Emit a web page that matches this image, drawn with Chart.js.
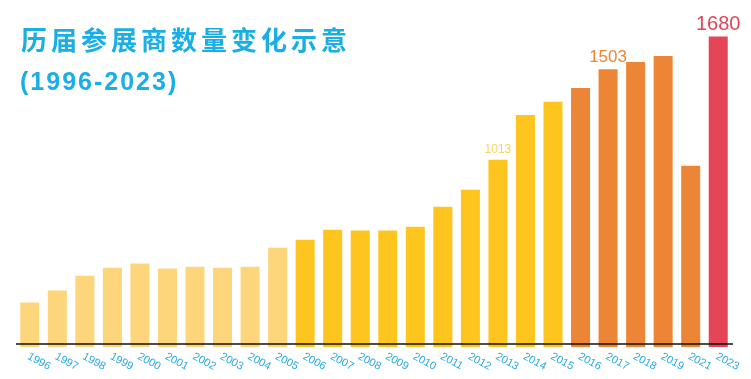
<!DOCTYPE html>
<html>
<head>
<meta charset="utf-8">
<script src="https://cdn.jsdelivr.net/npm/chart.js@4/dist/chart.umd.min.js"></script>
<style>
  html, body { margin: 0; padding: 0; background: #fff; }
  #wrap { position: relative; width: 751px; height: 379px; overflow: hidden; }
  #c { position: absolute; left: 0; top: 0; }
  .t1 { position: absolute; left: 21px; top: 26px; font-family: "Noto Sans CJK SC", sans-serif; font-weight: 700;
        font-size: 26px; line-height: 1; letter-spacing: 4px; color: #1aaee6; white-space: nowrap; }
  .t2 { position: absolute; left: 20px; top: 69px; font-family: "Liberation Sans", Arial, sans-serif; font-weight: 700;
        font-size: 25px; line-height: 1; letter-spacing: 2px; color: #1aaee6; white-space: nowrap; }
</style>
</head>
<body>
<div id="wrap">
  <canvas id="c" width="751" height="379"></canvas>
  <div class="t1">历届参展商数量变化示意</div>
  <div class="t2">(1996-2023)</div>
</div>
<script>
const years = ['1996','1997','1998','1999','2000','2001','2002','2003','2004','2005',
               '2006','2007','2008','2009','2010','2011','2012','2013','2014','2015',
               '2016','2017','2018','2019','2021','2023'];
const exhibitors = [241, 306, 386, 429, 452, 425, 434, 429, 434, 537,
                    580, 634, 631, 631, 651, 759, 851, 1013, 1256, 1327,
                    1402, 1503, 1543, 1575, 981, 1680];
const labelledYears = ['2013', '2017', '2023'];

function barColor(year) {
  const y = parseInt(year, 10);
  if (y <= 2005) return '#fdd57b';
  if (y <= 2015) return '#fdc51e';
  if (y <= 2021) return '#ec8636';
  return '#e64458';
}
const labelStyle = {
  '2013': { color: '#fcd067', size: 12 },
  '2017': { color: '#ec8636', size: 17 },
  '2023': { color: '#e64458', size: 20 }
};

const drawPlugin = {
  id: 'drawExtras',
  afterDatasetsDraw(chart) {
    const ctx = chart.ctx;
    const xs = chart.scales.x, ys = chart.scales.y;
    const area = chart.chartArea;
    // axis line
    ctx.save();
    ctx.strokeStyle = '#111';
    ctx.lineWidth = 1.5;
    ctx.beginPath();
    const ly = area.bottom - 3;
    ctx.moveTo(area.left, ly);
    ctx.lineTo(area.right + 1, ly);
    ctx.stroke();
    // rotated tick labels
    ctx.fillStyle = '#29aae1';
    ctx.font = '11px "Liberation Sans", Arial, sans-serif';
    ctx.textAlign = 'left';
    ctx.textBaseline = 'top';
    years.forEach((yr, i) => {
      const x = xs.getPixelForTick(i);
      ctx.save();
      ctx.translate(x + 1, area.bottom + 4);
      ctx.rotate(28 * Math.PI / 180);
      ctx.fillText(yr, 0, 0);
      ctx.restore();
    });
    // value labels
    ctx.textAlign = 'center';
    ctx.textBaseline = 'alphabetic';
    labelledYears.forEach(yr => {
      const i = years.indexOf(yr);
      const st = labelStyle[yr];
      const x = xs.getPixelForValue(i);
      const y = ys.getPixelForValue(exhibitors[i]);
      ctx.fillStyle = st.color;
      ctx.font = st.size + 'px "Liberation Sans", Arial, sans-serif';
      ctx.fillText(String(exhibitors[i]), x, y - 7);
    });
    ctx.restore();
  }
};

new Chart(document.getElementById('c'), {
  type: 'bar',
  data: {
    labels: years,
    datasets: [{
      data: exhibitors,
      backgroundColor: years.map(barColor),
      borderWidth: 0,
      barPercentage: 0.69,
      categoryPercentage: 1.0
    }]
  },
  options: {
    responsive: false,
    animation: false,
    layout: { padding: { left: 16, right: 19, top: 0, bottom: 0 } },
    plugins: { legend: { display: false }, tooltip: { enabled: false } },
    scales: {
      x: {
        grid: { display: false, drawTicks: false },
        border: { display: false },
        ticks: { display: false },
        afterFit(scale) { scale.height = 32; }
      },
      y: {
        display: false,
        min: 0,
        max: 1878
      }
    }
  },
  plugins: [drawPlugin]
});
</script>
</body>
</html>
